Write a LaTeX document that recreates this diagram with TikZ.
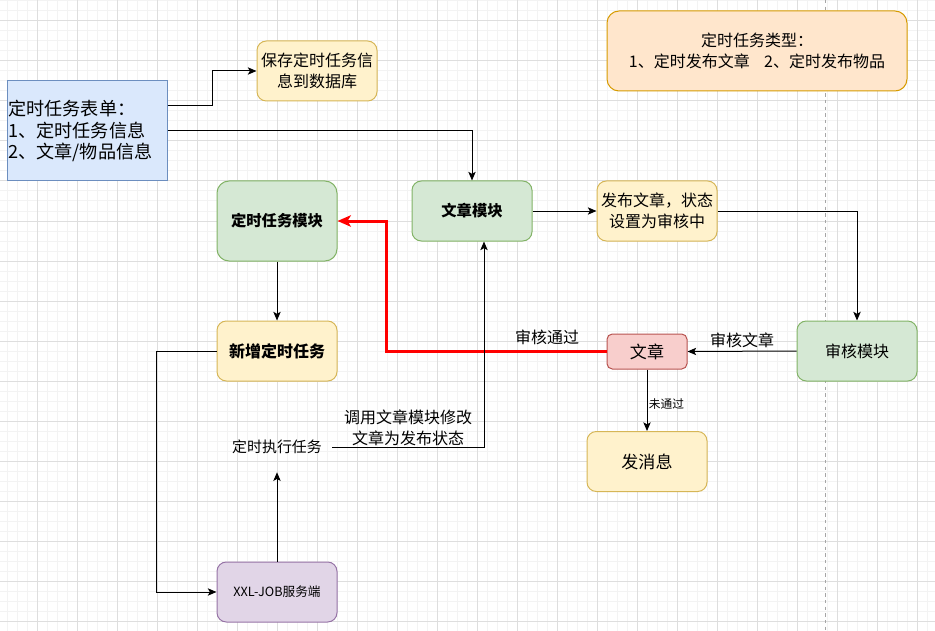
\documentclass[tikz,border=0pt]{standalone}
\usepackage{fontspec}
\setmainfont{Noto Sans CJK SC}
\usetikzlibrary{arrows.meta,calc}
\definecolor{bluef}{HTML}{DAE8FC}\definecolor{bluel}{HTML}{6C8EBF}
\definecolor{yelf}{HTML}{FFF2CC}\definecolor{yell}{HTML}{D6B656}
\definecolor{grnf}{HTML}{D5E8D4}\definecolor{grnl}{HTML}{82B366}
\definecolor{redf}{HTML}{F8CECC}\definecolor{redl}{HTML}{B85450}
\definecolor{purf}{HTML}{E1D5E7}\definecolor{purl}{HTML}{9673A6}
\definecolor{orgf}{HTML}{FFE6CC}\definecolor{orgl}{HTML}{D79B00}
\definecolor{gridmaj}{HTML}{DEDEDE}\definecolor{gridmin}{HTML}{F3F3F3}
\definecolor{redarrow}{HTML}{FF0000}
\tikzset{
  txt/.style={font=\fontsize{12}{15.5}\selectfont},
  box/.style={draw, line width=0.75pt, rounded corners=7pt, minimum width=90pt, minimum height=45pt, inner sep=1pt, align=center, txt},
  bigbox/.style={box, minimum height=60pt, rounded corners=9pt},
  yelbox/.style={box, fill=yelf, draw=yell},
  grnbox/.style={box, fill=grnf, draw=grnl},
  arr/.style={draw, line width=0.75pt, -{Stealth[length=6.5pt,width=5.5pt,inset=1.5pt]}},
  redarr/.style={draw=redarrow, line width=2.25pt, -{Stealth[length=10pt,width=8.5pt,inset=2.5pt]}},
  lbl/.style={txt, inner sep=1pt},
}
\begin{document}
\begin{tikzpicture}[x=0.75pt,y=-0.75pt]
\useasboundingbox (0,0) rectangle (935,631);
\fill[white] (0,0) rectangle (935,631);
% grid
\foreach \gx in {7,17,...,935} \draw[gridmin, line width=0.75pt] (\gx,0) -- (\gx,631);
\foreach \gy in {1,11,...,631} \draw[gridmin, line width=0.75pt] (0,\gy) -- (935,\gy);
\foreach \gx in {37,77,...,935} \draw[gridmaj, line width=0.75pt] (\gx,0) -- (\gx,631);
\foreach \gy in {21,61,...,631} \draw[gridmaj, line width=0.75pt] (0,\gy) -- (935,\gy);
\draw[gray!70, line width=0.75pt, dash pattern=on 2.5pt off 2.5pt] (825,0) -- (825,631);

% nodes
\node[draw=bluel, fill=bluef, line width=0.75pt, minimum width=120pt, minimum height=75pt,
      text width=118pt, inner sep=1pt, align=left, font=\fontsize{13.6}{16.2}\selectfont]
      (form) at (87,131) {定时任务表单：\\1、定时任务信息\\2、文章/物品信息};
\node[yelbox] (save) at (317,71) {保存定时任务信\\息到数据库};
\node[box, fill=orgf, draw=orgl, minimum width=225pt, minimum height=60pt, rounded corners=9pt]
      (type) at (757,51) {定时任务类型：\\1、定时发布文章\ \ \ \ 2、定时发布物品};
\node[grnbox, bigbox, font=\fontsize{11.5}{14}\selectfont\bfseries] (tmod) at (277,221) {定时任务模块};
\node[grnbox, font=\fontsize{11.5}{14}\selectfont\bfseries] (amod) at (472,211) {文章模块};
\node[yelbox] (pub) at (657,211) {发布文章，状态\\设置为审核中};
\node[grnbox] (rmod) at (857,351) {审核模块};
\node[box, fill=redf, draw=redl, minimum width=60pt, minimum height=26.25pt, rounded corners=4pt,
      font=\fontsize{12.8}{15}\selectfont] (art) at (647,351.5) {文章};
\node[yelbox, font=\fontsize{12.8}{15}\selectfont] (msg) at (647,461.5) {发消息};
\node[yelbox, font=\fontsize{12}{15}\selectfont\bfseries] (add) at (277,351) {新增定时任务};
\node[box, fill=purf, draw=purl, font=\fontsize{9.5}{12}\selectfont] (xxl) at (277,592) {XXL-JOB服务端};
\node[txt, minimum width=82.5pt, minimum height=37.5pt, inner sep=0pt, font=\fontsize{11.2}{14}\selectfont] (exec) at (277,447) {定时执行任务};

% connectors
\draw[arr] ([yshift=18.75pt]form.east) -- ++(45,0) |- (save.west);
\draw[arr] (form.east) -| (amod.north);
\draw[arr] (amod) -- (pub);
\draw[arr] (pub.east) -| (rmod.north);
\draw[arr] (rmod.west) -- node[lbl, above, pos=0.5, yshift=1pt] {审核文章} (art.east);
\draw[arr] (art.south) -- node[right, inner sep=1pt, yshift=-3pt, font=\fontsize{8.8}{10}\selectfont] {未通过} (msg.north);
\draw[redarr] (art.west) -- ++(-220,0) node[lbl, above, pos=0.27, text=black, yshift=3pt] {审核通过} |- (tmod.east);
\draw[arr] (tmod) -- (add);
\draw[arr] (add.west) -- ++(-60,0) |- (xxl.west);
\draw[arr] (xxl.north) -- (exec.south);
\draw[arr] (exec.east) -| node[lbl, above, pos=0.25, align=center, inner sep=0.5pt] {调用文章模块修改\\文章为发布状态} ([xshift=9pt]amod.south);
\end{tikzpicture}
\end{document}
